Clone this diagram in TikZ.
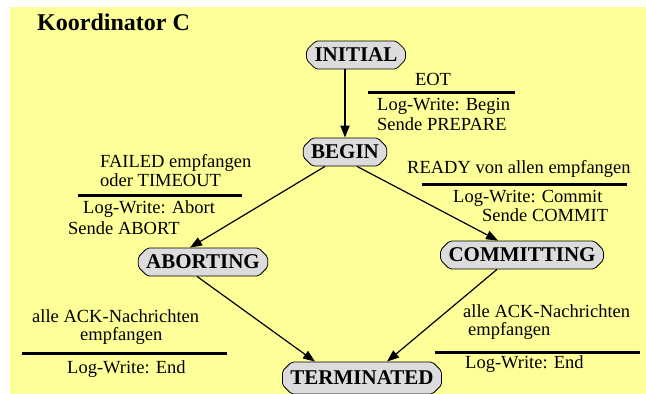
\documentclass[tikz,border=0pt]{standalone}
\usepackage{fontspec}
\setmainfont{Liberation Serif}
\usetikzlibrary{shapes.misc,arrows.meta}
\definecolor{bgyellow}{RGB}{255,255,153}
\definecolor{stategray}{RGB}{220,220,220}
\begin{document}
\begin{tikzpicture}[
    x=1pt, y=-1pt,
    state/.style={draw, thick, fill=stategray, chamfered rectangle, chamfered rectangle xsep=6pt,
        rounded corners=2pt, inner xsep=2pt, inner ysep=2pt, minimum height=28pt,
        font=\fontsize{21}{22}\selectfont\bfseries},
    lbl/.style={inner sep=0pt, anchor=base west, font=\fontsize{18.5}{20}\selectfont},
    bar/.style={line width=3pt},
    arrow/.style={-{Triangle[length=12pt,width=9pt]}, line width=1.2pt}
]
    \clip (0,0) rectangle (646,394);
    \fill[bgyellow] (10,7) rectangle (646,394);

    \node[inner sep=0pt, anchor=base west, font=\fontsize{24}{26}\selectfont\bfseries] (title) at (37,30) {Koordinator C};

    \node[state] (initial) at (356,55) {INITIAL};
    \node[state] (begin) at (345,152) {BEGIN};
    \node[state] (aborting) at (203,262) {ABORTING};
    \node[state] (committing) at (522,255) {COMMITTING};
    \node[state, minimum height=32pt] (terminated) at (362,378) {TERMINATED};

    % INITIAL -> BEGIN
    \node[lbl, anchor=base] (eot) at (433,85) {EOT};
    \draw[bar] (368,92) -- (515,92);
    \node[lbl] (logbegin) at (377,110) {Log-Write: Begin};
    \node[lbl] (sendeprepare) at (377,130) {Sende PREPARE};

    % BEGIN -> ABORTING
    \node[lbl] (failed) at (100,167) {FAILED empfangen};
    \node[lbl] (timeout) at (100,186) {oder TIMEOUT};
    \draw[bar] (78,195) -- (242,195);
    \node[lbl] (logabort) at (83,213) {Log-Write: Abort};
    \node[lbl] (sendeabort) at (68,234) {Sende ABORT};

    % BEGIN -> COMMITTING
    \node[lbl] (ready) at (407,173) {READY von allen empfangen};
    \draw[bar] (422,184) -- (627,184);
    \node[lbl] (logcommit) at (453,202) {Log-Write: Commit};
    \node[lbl] (sendecommit) at (482,221) {Sende COMMIT};

    % ABORTING -> TERMINATED
    \node[lbl] (ackleft) at (32,322) {alle ACK-Nachrichten};
    \node[lbl] (empfleft) at (80,340) {empfangen};
    \draw[bar] (22,353) -- (227,353);
    \node[lbl] (logendleft) at (67,373) {Log-Write: End};

    % COMMITTING -> TERMINATED
    \node[lbl] (ackright) at (463,317) {alle ACK-Nachrichten};
    \node[lbl] (empfright) at (468,335) {empfangen};
    \draw[bar] (435,352) -- (640,352);
    \node[lbl] (logendright) at (465,368) {Log-Write: End};

    \draw[arrow, line width=1.8pt] (begin |- initial.south) -- (begin.north);
    \draw[arrow] ([xshift=-20pt]begin.south) -- ([xshift=-13pt]aborting.north);
    \draw[arrow] ([xshift=12pt]begin.south) -- ([xshift=-24pt]committing.north);
    \draw[arrow] ([xshift=-6pt]aborting.south) -- ([xshift=-47pt]terminated.north);
    \draw[arrow] ([xshift=-25pt]committing.south) -- ([xshift=25pt]terminated.north);
\end{tikzpicture}
\end{document}
